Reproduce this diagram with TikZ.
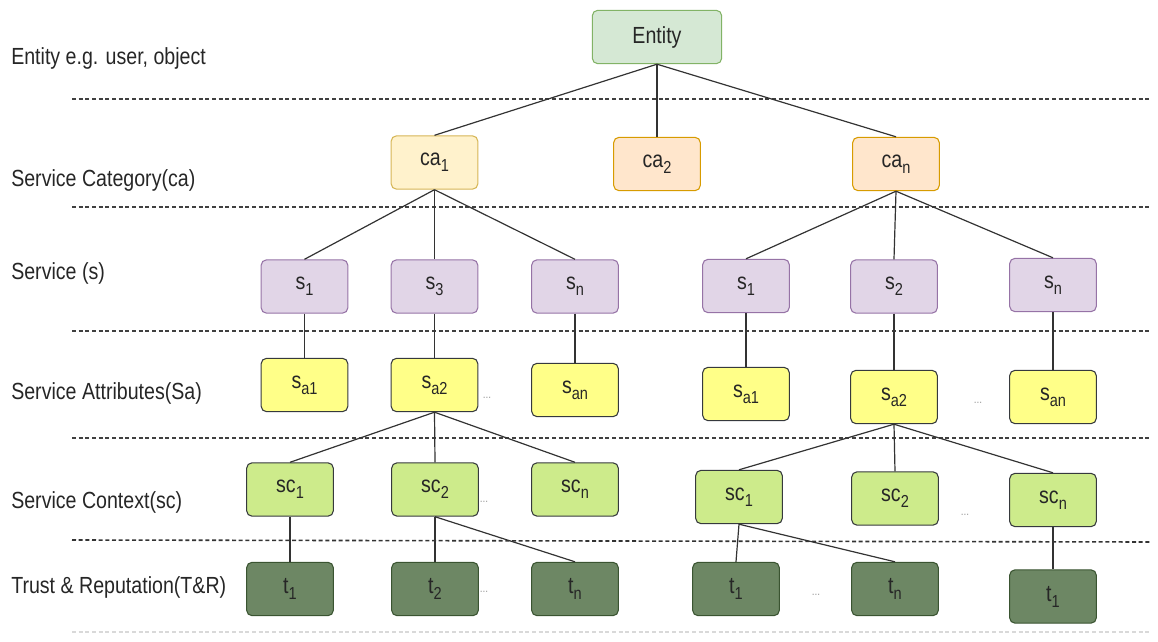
\documentclass[tikz,border=0pt]{standalone}
\usepackage{fontspec}
\setmainfont{Liberation Sans}[FakeStretch=0.84]
\definecolor{entfill}{HTML}{D5E8D4}
\definecolor{entline}{HTML}{82B366}
\definecolor{cafill}{HTML}{FFF2CC}
\definecolor{caline}{HTML}{D6B656}
\definecolor{cbfill}{HTML}{FFE6CC}
\definecolor{cbline}{HTML}{D79B00}
\definecolor{sfill}{HTML}{E1D5E7}
\definecolor{sline}{HTML}{9673A6}
\definecolor{safill}{HTML}{FFFF88}
\definecolor{scfill}{HTML}{CDEB8B}
\definecolor{darkline}{HTML}{36393D}
\definecolor{tfill}{HTML}{6D8764}
\definecolor{tline}{HTML}{3A5431}
\newcommand{\lowsub}[1]{\raisebox{-4.5pt}{\fontsize{13}{13}\selectfont #1}}
\begin{document}
\begin{tikzpicture}
    [
    x=0.75pt, y=-0.75pt,
    box/.style={rectangle,rounded corners=4pt,draw,line width=0.8pt,inner sep=0pt,minimum width=65pt,minimum height=40pt,text=black!85,font=\fontsize{17.5}{19}\selectfont},
    entbox/.style={box,fill=entfill,draw=entline,minimum width=97pt},
    cabox/.style={box,fill=cafill,draw=caline},
    cbbox/.style={box,fill=cbfill,draw=cbline},
    sbox/.style={box,fill=sfill,draw=sline},
    sabox/.style={box,fill=safill,draw=darkline},
    scbox/.style={box,fill=scfill,draw=darkline},
    tbox/.style={box,fill=tfill,draw=tline},
    lbl/.style={anchor=west,inner sep=0pt,text=black!85,font=\fontsize{17.5}{19}\selectfont},
    dots/.style={inner sep=0pt,text=black!40,font=\fontsize{9}{9}\selectfont},
    layer/.style={draw=black!75,line width=0.9pt,dash pattern=on 3pt off 2pt},
    link/.style={draw=black!80,line width=0.9pt}
    ]
    \useasboundingbox (0,0) rectangle (1158,642);
    % layer separators
    \draw [layer] (72,99) -- (1150,99);
    \draw [layer] (72,207) -- (1150,207);
    \draw [layer] (72,331) -- (1150,331);
    \draw [layer] (72,438) -- (1150,438);
    \draw [layer,line width=1.2pt,draw=black!80] (72,540) -- (1150,542);
    \draw [layer,draw=black!15] (72,632) -- (1150,632);
    % layer names
    \node (l1) at (11,58) [lbl] {Entity e.g. user, object};
    \node (l2) at (11,180) [lbl] {Service Category(ca)};
    \node (l3) at (11,273) [lbl] {Service (s)};
    \node (l4) at (11,393) [lbl] {Service Attributes(Sa)};
    \node (l5) at (11,502) [lbl] {Service Context(sc)};
    \node (l6) at (11,587) [lbl] {Trust \& Reputation(T\&R)};
    % entity and categories
    \node (ent) at (657,37) [entbox] {Entity};
    \node (ca1) at (434.5,162.5) [cabox] {ca\lowsub{1}};
    \node (ca2) at (657,164) [cbbox] {ca\lowsub{2}};
    \node (can) at (896,164) [cbbox] {ca\lowsub{n}};
    % services
    \node (s1) at (304.5,286.5) [sbox] {s\lowsub{1}};
    \node (s3) at (434.5,286.5) [sbox] {s\lowsub{3}};
    \node (sn) at (575,286.5) [sbox] {s\lowsub{n}};
    \node (rs1) at (746,286) [sbox] {s\lowsub{1}};
    \node (rs2) at (894,286.5) [sbox] {s\lowsub{2}};
    \node (rsn) at (1053,285) [sbox] {s\lowsub{n}};
    % service attributes
    \node (sa1) at (304.5,385) [sabox] {s\lowsub{a1}};
    \node (sa2) at (434.5,385) [sabox] {s\lowsub{a2}};
    \node (san) at (575,390) [sabox] {s\lowsub{an}};
    \node (rsa1) at (746,394) [sabox] {s\lowsub{a1}};
    \node (rsa2) at (894,397) [sabox] {s\lowsub{a2}};
    \node (rsan) at (1053,397) [sabox] {s\lowsub{an}};
    % service contexts
    \node (sc1) at (290,489.5) [scbox] {sc\lowsub{1}};
    \node (sc2) at (435,489.5) [scbox] {sc\lowsub{2}};
    \node (scn) at (575,489.5) [scbox] {sc\lowsub{n}};
    \node (rsc1) at (739,497) [scbox] {sc\lowsub{1}};
    \node (rsc2) at (895,498.5) [scbox] {sc\lowsub{2}};
    \node (rscn) at (1053,500) [scbox] {sc\lowsub{n}};
    % trust and reputation
    \node (t1) at (290,589) [tbox] {t\lowsub{1}};
    \node (t2) at (435,589) [tbox] {t\lowsub{2}};
    \node (tn) at (575,589) [tbox] {t\lowsub{n}};
    \node (rt1) at (736,589) [tbox] {t\lowsub{1}};
    \node (rtn) at (895,589) [tbox] {t\lowsub{n}};
    \node (rt1b) at (1053,596.5) [tbox] {t\lowsub{1}};
    % dots
    \node (d1) at (487,398) [dots] {...};
    \node (d2) at (978,403) [dots] {...};
    \node (d3) at (484,502) [dots] {...};
    \node (d4) at (965,515) [dots] {...};
    \node (d5) at (484,592) [dots] {...};
    \node (d6) at (816,595) [dots] {...};
    % links
    \draw [link] (ent.south) to (ca1.north);
    \draw [link] (ent.south) to (ca2.north);
    \draw [link] (ent.south) to (can.north);
    \draw [link] (ca1.south) to (s1.north);
    \draw [link] (ca1.south) to (s3.north);
    \draw [link] (ca1.south) to (sn.north);
    \draw [link] (can.south) to (rs1.north);
    \draw [link] (can.south) to (rs2.north);
    \draw [link] (can.south) to (rsn.north);
    \draw [link] (s1.south) to (sa1.north);
    \draw [link] (s3.south) to (sa2.north);
    \draw [link] (sn.south) to (san.north);
    \draw [link] (rs1.south) to (rsa1.north);
    \draw [link] (rs2.south) to (rsa2.north);
    \draw [link] (rsn.south) to (rsan.north);
    \draw [link] (sa2.south) to (sc1.north);
    \draw [link] (sa2.south) to (sc2.north);
    \draw [link] (sa2.south) to (scn.north);
    \draw [link] (rsa2.south) to (rsc1.north);
    \draw [link] (rsa2.south) to (rsc2.north);
    \draw [link] (rsa2.south) to (rscn.north);
    \draw [link] (sc1.south) to (t1.north);
    \draw [link] (sc2.south) to (t2.north);
    \draw [link] (sc2.south) to (tn.north);
    \draw [link] (rsc1.south) to (rt1.north);
    \draw [link] (rsc1.south) to (rtn.north);
    \draw [link] (rscn.south) to (rt1b.north);
\end{tikzpicture}
\end{document}
